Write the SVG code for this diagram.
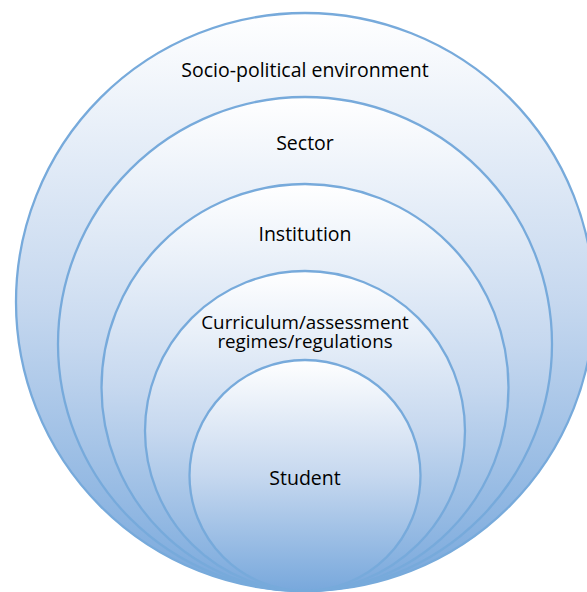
<svg xmlns="http://www.w3.org/2000/svg" width="587" height="592" viewBox="0 0 587 592">
<defs>
<linearGradient id="g" x1="0" y1="0" x2="0" y2="1">
<stop offset="0" stop-color="#ffffff"/>
<stop offset="0.5" stop-color="#c6d8ef"/>
<stop offset="1" stop-color="#78a8dc"/>
</linearGradient>
</defs>
<style>
.c{fill:url(#g);stroke:#77aadb;stroke-width:2.3}
.t{font-family:"Open Sans","Noto Sans",sans-serif;font-size:19.5px;fill:#000;text-anchor:middle}
.s{font-size:18.8px}
</style>
<rect width="587" height="592" fill="#ffffff"/>
<g id="socio"><circle class="c" cx="305" cy="302" r="289"/><text class="t" x="305" y="77">Socio-political environment</text></g>
<g id="sector"><circle class="c" cx="305" cy="344" r="247"/><text class="t" x="305" y="150">Sector</text></g>
<g id="institution"><circle class="c" cx="305" cy="387.5" r="203.5"/><text class="t" x="305" y="241">Institution</text></g>
<g id="curriculum"><circle class="c" cx="305" cy="431" r="160"/><text class="t s" x="305" y="328.5"><tspan x="305">Curriculum/assessment</tspan><tspan x="305" dy="19">regimes/regulations</tspan></text></g>
<g id="student"><circle class="c" cx="305" cy="475.5" r="115.5"/><text class="t" x="305" y="485">Student</text></g>
<g id="connectors"/>
</svg>
